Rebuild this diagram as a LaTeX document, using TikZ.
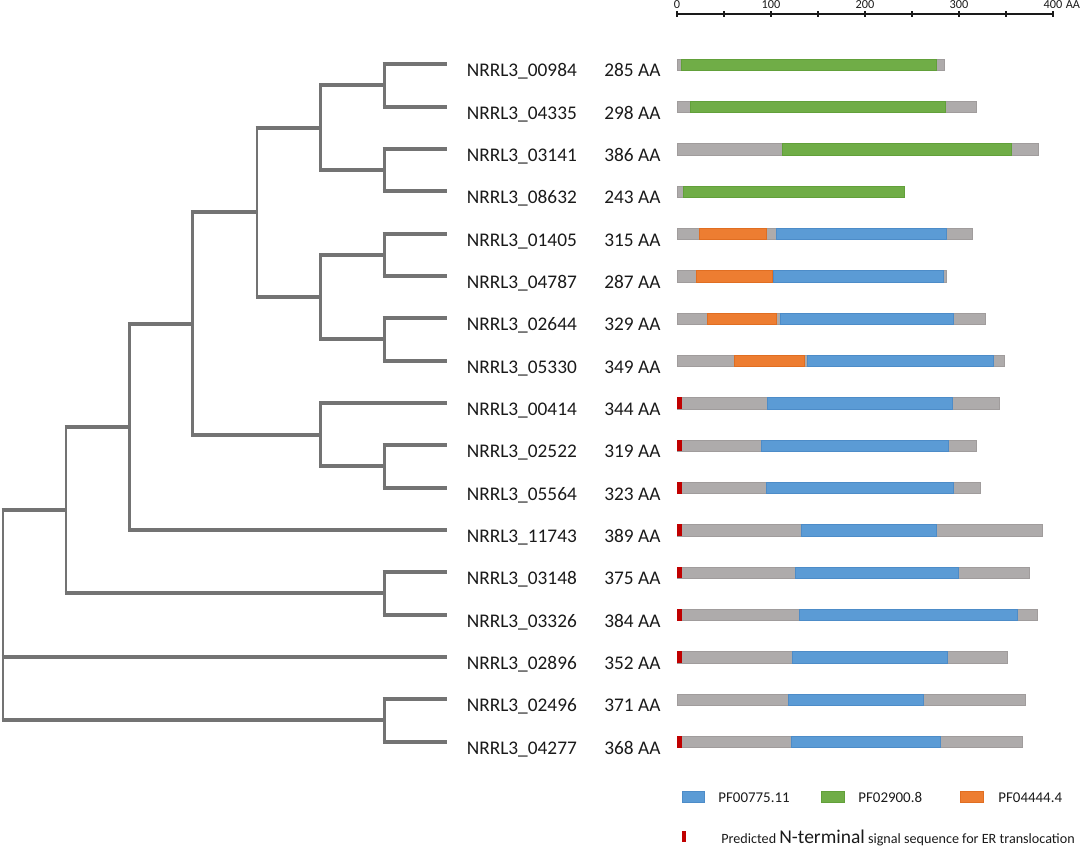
\documentclass[tikz,border=0pt]{standalone}
\usepackage{fontspec}
\setmainfont{Carlito}
\definecolor{treegray}{HTML}{737373}
\definecolor{bargray}{HTML}{AEABAB}
\definecolor{bargrayd}{HTML}{A09C9C}
\definecolor{dblue}{HTML}{5B9BD5}
\definecolor{dblued}{HTML}{4D8CC8}
\definecolor{dgreen}{HTML}{70AD47}
\definecolor{dgreend}{HTML}{62A03A}
\definecolor{dorange}{HTML}{ED7D31}
\definecolor{doranged}{HTML}{E06E22}
\definecolor{dred}{HTML}{C00000}
\definecolor{txt}{HTML}{1A1A1A}
\tikzset{
  hline/.style={draw=treegray, line width=2.3pt, shorten <=-0.85pt},
  vline/.style={draw=treegray, line width=1.7pt, line cap=rect},
  rootline/.style={draw=treegray, line width=1.3pt, line cap=rect},
  namelbl/.style={anchor=base west, inner sep=0pt, text=txt, font=\fontsize{11}{13}\selectfont},
  scalelbl/.style={anchor=base, inner sep=0pt, text=txt, font=\fontsize{7}{8}\selectfont},
  leglbl/.style={anchor=base west, inner sep=0pt, text=txt, font=\fontsize{8.5}{10}\selectfont},
  gbar/.style={fill=bargray, draw=bargrayd, line width=0.3pt},
  bdom/.style={fill=dblue, draw=dblued, line width=0.3pt},
  gdom/.style={fill=dgreen, draw=dgreend, line width=0.3pt},
  odom/.style={fill=dorange, draw=doranged, line width=0.3pt},
  rdom/.style={fill=dred},
}
\newcommand{\prect}[4]{\path[#1] (#2,#4-5.5) rectangle (#3,#4+6);}
\begin{document}
\begin{tikzpicture}[x=0.02cm,y=-0.02cm]
\useasboundingbox (0,0) rectangle (1084,849);

% scale axis
\coordinate (ax0) at (677,14);
\coordinate (ax1) at (1053,14);
\draw[txt, line width=0.7pt] (ax0) -- (ax1);
\foreach \k in {0,...,8} {
  \draw[txt, line width=0.7pt] (677+47*\k,11) -- (677+47*\k,17);
}
\foreach \k/\v in {0/0,2/100,4/200,6/300,8/400} {
  \node[scalelbl] (sc\v) at (677+47*\k,8.9) {\v};
}
\node[scalelbl, anchor=base west] (scAA) at (1065.5,8.9) {AA};

% labels and leaves
\foreach \i/\y/\id/\len in {
 1/64.3/00984/285, 2/106.6/04335/298, 3/149.0/03141/386, 4/191.3/08632/243,
 5/233.6/01405/315, 6/276.0/04787/287, 7/318.3/02644/329, 8/360.6/05330/349,
 9/402.9/00414/344, 10/445.3/02522/319, 11/487.6/05564/323, 12/529.9/11743/389,
 13/572.3/03148/375, 14/614.6/03326/384, 15/656.9/02896/352, 16/699.3/02496/371,
 17/741.6/04277/368} {
  \coordinate (L\i) at (447.3,\y);
  \node[namelbl] (name\i) at (466.5,\y+12.5) {NRRL3\_\id};
  \node[namelbl] (len\i) at (604,\y+12.5) {\len\ AA};
}

% internal nodes of the tree
\coordinate (nA) at (384,85.45);
\coordinate (nB) at (384,170.15);
\coordinate (nAB) at (320.7,127.8);
\coordinate (nC) at (384,254.8);
\coordinate (nD) at (384,339.45);
\coordinate (nCD) at (320.7,297.1);
\coordinate (nABCD) at (257,212.45);
\coordinate (nE) at (384,466.45);
\coordinate (nF) at (320.7,434.7);
\coordinate (nG) at (192.7,323.6);
\coordinate (nH) at (129.3,426.75);
\coordinate (nI) at (384,593.45);
\coordinate (nJ) at (66,510.1);
\coordinate (nK) at (384,720.45);
\coordinate (nR) at (3,615.3);

% clades: parent / child1 / child2
\foreach \p/\a/\b in {nA/L1/L2, nB/L3/L4, nAB/nA/nB, nC/L5/L6, nD/L7/L8,
  nCD/nC/nD, nABCD/nAB/nCD, nE/L10/L11, nF/L9/nE, nG/nABCD/nF, nH/nG/L12,
  nI/L13/L14, nJ/nH/nI, nK/L16/L17} {
  \draw[vline] (\a -| \p) -- (\b -| \p);
  \draw[hline] (\a -| \p) -- (\a);
  \draw[hline] (\b -| \p) -- (\b);
}
\draw[rootline] (nJ -| nR) -- (nK -| nR);
\draw[hline] (nJ -| nR) -- (nJ);
\draw[hline] (L15 -| nR) -- (L15);
\draw[hline] (nK -| nR) -- (nK);

% protein bars
\prect{gbar}{677}{944.3}{64.3}   \prect{gdom}{681.7}{936.7}{64.3}
\prect{gbar}{677}{976.3}{106.6}  \prect{gdom}{690.3}{945.7}{106.6}
\prect{gbar}{677}{1038.7}{149.0} \prect{gdom}{782.7}{1011.7}{149.0}
\prect{gbar}{677}{904.7}{191.3}  \prect{gdom}{683.3}{904.7}{191.3}
\prect{gbar}{677}{972.3}{233.6}  \prect{odom}{699.3}{766}{233.6}   \prect{bdom}{776.3}{946.3}{233.6}
\prect{gbar}{677}{946}{276.0}    \prect{odom}{696.3}{772}{276.0}   \prect{bdom}{773.3}{943}{276.0}
\prect{gbar}{677}{985.7}{318.3}  \prect{odom}{707.3}{776.3}{318.3} \prect{bdom}{780.3}{953.7}{318.3}
\prect{gbar}{677}{1004.7}{360.6} \prect{odom}{734}{804}{360.6}     \prect{bdom}{807.7}{993}{360.6}
\prect{gbar}{677}{999.7}{402.9}  \prect{bdom}{767.3}{952.7}{402.9} \prect{rdom}{677.3}{682.3}{402.9}
\prect{gbar}{677}{976.3}{445.3}  \prect{bdom}{761.7}{948.7}{445.3} \prect{rdom}{677.3}{682.3}{445.3}
\prect{gbar}{677}{980.3}{487.6}  \prect{bdom}{766.3}{953}{487.6}   \prect{rdom}{677.3}{682.3}{487.6}
\prect{gbar}{677}{1042}{529.9}   \prect{bdom}{801.3}{936}{529.9}   \prect{rdom}{677.3}{682.3}{529.9}
\prect{gbar}{677}{1029.3}{572.3} \prect{bdom}{795.3}{958}{572.3}   \prect{rdom}{677.3}{682.3}{572.3}
\prect{gbar}{677}{1037}{614.6}   \prect{bdom}{799}{1017.3}{614.6}  \prect{rdom}{677.3}{682.3}{614.6}
\prect{gbar}{677}{1007.3}{656.9} \prect{bdom}{792}{947.7}{656.9}   \prect{rdom}{677.3}{682.3}{656.9}
\prect{gbar}{677}{1025.3}{699.3} \prect{bdom}{788}{923.7}{699.3}
\prect{gbar}{677}{1022.3}{741.6} \prect{bdom}{791.3}{940}{741.6}   \prect{rdom}{677.3}{682.3}{741.6}

% legend
\path[bdom] (682,791) rectangle (704.3,802);
\node[leglbl] (legB) at (718,802) {PF00775.11};
\path[gdom] (821,791) rectangle (844,802);
\node[leglbl] (legG) at (858,802) {PF02900.8};
\path[odom] (960,791) rectangle (983,802);
\node[leglbl] (legO) at (998,802) {PF04444.4};
\path[rdom] (681.7,830.7) rectangle (685.7,841.7);
\node[leglbl, font=\fontsize{8.05}{10}\selectfont] (legR) at (721,843.5) {Predicted {\fontsize{11.1}{13}\selectfont N-terminal} signal sequence for ER translocation};
\end{tikzpicture}
\end{document}
